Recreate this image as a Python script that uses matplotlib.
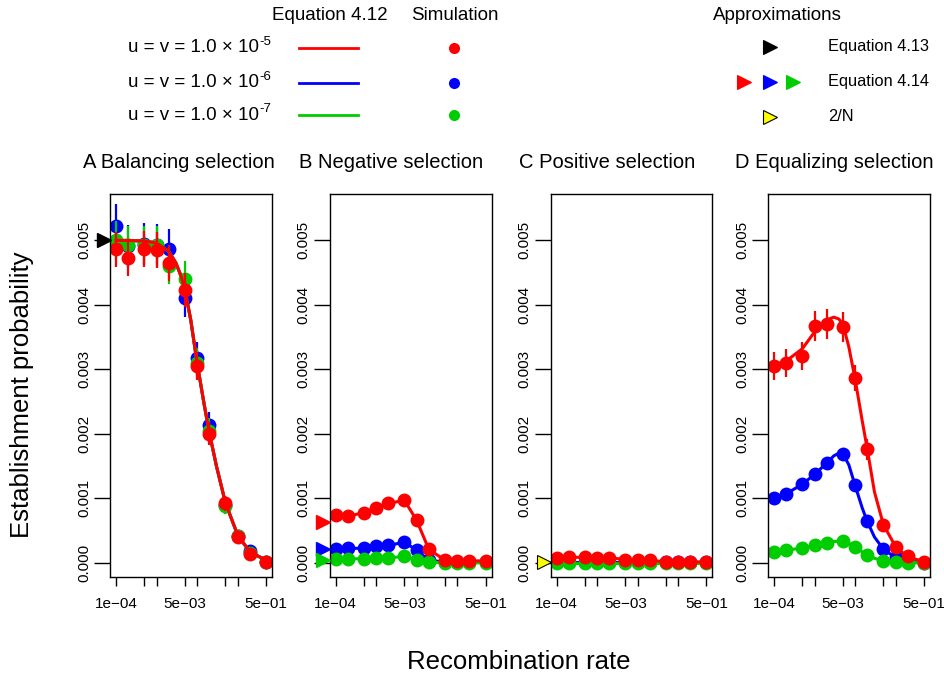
import numpy as np
import matplotlib.pyplot as plt
from matplotlib.lines import Line2D
from matplotlib import transforms
from matplotlib.ticker import NullLocator

plt.rcParams['font.family'] = ['Liberation Sans', 'DejaVu Sans']

# recombination rates of the simulations and of the analytic curves
r_sim = [1e-4, 2e-4, 5e-4, 1e-3, 2e-3, 5e-3, 1e-2, 2e-2, 5e-2, 1e-1, 2e-1, 5e-1]
r_eq = [1e-4, 2e-4, 5e-4, 1e-3, 2e-3, 3e-3, 4e-3, 5e-3, 7e-3, 1e-2,
        1.5e-2, 2e-2, 3e-2, 5e-2, 1e-1, 2e-1, 5e-1]

# establishment probabilities, in units of 1e-3
# A: balancing selection
A_sim_blue = [5.23, 4.91, 4.95, 4.93, 4.86, 4.11, 3.17, 2.13, 0.90, 0.42, 0.18, 0.02]
A_sim_green = [5.00, 4.93, 4.93, 4.93, 4.61, 4.40, 3.10, 2.05, 0.88, 0.42, 0.15, 0.02]
A_sim_red = [4.86, 4.73, 4.87, 4.85, 4.65, 4.23, 3.05, 2.00, 0.92, 0.40, 0.14, 0.02]
A_eq = [5.00, 5.00, 4.99, 4.96, 4.83, 4.65, 4.45, 4.24, 3.76, 3.10,
        2.45, 2.02, 1.50, 0.93, 0.43, 0.17, 0.04]
A_eq413 = 5.0

# B: negative selection
B_sim_blue = [0.22, 0.225, 0.225, 0.255, 0.27, 0.32, 0.195, 0.04, 0.01, 0.01, 0.01, 0.01]
B_sim_green = [0.055, 0.06, 0.065, 0.07, 0.075, 0.10, 0.05, 0.01, 0.0, 0.0, 0.0, 0.0]
B_sim_red = [0.74, 0.72, 0.78, 0.85, 0.92, 0.97, 0.66, 0.21, 0.04, 0.03, 0.03, 0.03]
B_eq414 = [0.63, 0.22, 0.05]  # red, blue, green

# C: positive selection
C_sim_blue = [0.005] * 12
C_sim_green = [0.002] * 12
C_sim_red = [0.08, 0.085, 0.085, 0.08, 0.08, 0.05, 0.04, 0.04, 0.015, 0.015, 0.015, 0.015]
N = 200000

# D: equalizing selection
D_sim_blue = [1.00, 1.07, 1.23, 1.37, 1.55, 1.69, 1.20, 0.645, 0.22, 0.09, 0.02, 0.0]
D_sim_green = [0.17, 0.195, 0.23, 0.27, 0.31, 0.335, 0.25, 0.12, 0.03, 0.01, 0.0, 0.0]
D_sim_red = [3.05, 3.10, 3.20, 3.68, 3.70, 3.66, 2.87, 1.76, 0.59, 0.25, 0.10, 0.01]
D_eq_blue = [1.00, 1.07, 1.22, 1.37, 1.55, 1.66, 1.70, 1.69, 1.52, 1.20,
             0.85, 0.64, 0.40, 0.21, 0.08, 0.03, 0.005]
D_eq_green = [0.17, 0.195, 0.23, 0.27, 0.31, 0.33, 0.335, 0.33, 0.30, 0.25,
              0.17, 0.12, 0.07, 0.03, 0.01, 0.003, 0.0]
D_eq_red = [3.07, 3.13, 3.32, 3.58, 3.77, 3.81, 3.78, 3.70, 3.35, 2.85,
            2.20, 1.76, 1.10, 0.59, 0.25, 0.09, 0.02]

# number of replicate runs behind each simulated point (blue, green, red)
runs = {'A': (1.8e5, 2.2e5, 2.4e5), 'B': (1e6, 1e6, 1e6),
        'C': (1e6, 1e6, 1e6), 'D': (1e6, 1e6, 2.6e5)}

titles = ['A Balancing selection', 'B Negative selection',
          'C Positive selection', 'D Equalizing selection']
mut_exponents = ['-5', '-6', '-7']

RED, BLUE, GREEN = '#FF0000', '#0000FF', '#00CD00'
SCALE = 1e-3

W, H = 945, 677


def fx(x):
    return x / W


def fy(y):
    return 1 - y / H


panels = {
    'A': [(BLUE, A_sim_blue, r_eq, A_eq), (GREEN, A_sim_green, r_eq, A_eq),
          (RED, A_sim_red, r_eq, A_eq)],
    'B': [(BLUE, B_sim_blue, r_sim, B_sim_blue), (GREEN, B_sim_green, r_sim, B_sim_green),
          (RED, B_sim_red, r_sim, B_sim_red)],
    'C': [(BLUE, C_sim_blue, r_sim, C_sim_blue), (GREEN, C_sim_green, r_sim, C_sim_green),
          (RED, C_sim_red, r_sim, C_sim_red)],
    'D': [(BLUE, D_sim_blue, r_eq, D_eq_blue), (GREEN, D_sim_green, r_eq, D_eq_green),
          (RED, D_sim_red, r_eq, D_eq_red)],
}

fig = plt.figure(figsize=(9.45, 6.77), dpi=100)

panel_left = [110, 329.5, 550.5, 768]
title_x = [178.5, 391.5, 607, 834.5]
xt = [1e-4, 5e-4, 1e-3, 5e-3, 1e-2, 5e-2, 1e-1, 5e-1]
xt_labels = ['1e\u221204', '', '', '5e\u221203', '', '', '', '5e\u221201']
yt = [0.0, 0.001, 0.002, 0.003, 0.004, 0.005]

pad = 0.04 * np.log10(5e-1 / 1e-4)
xlim = (1e-4 / 10 ** pad, 5e-1 * 10 ** pad)
ylim = (-0.04 * 0.0055, 0.0055 * 1.04)

for i, key in enumerate('ABCD'):
    ax = fig.add_axes([fx(panel_left[i]), fy(577), 162 / W, (577 - 194) / H])
    ax.set_xscale('log')
    for (col, sim, rx, eq), n in zip(panels[key], runs[key]):
        p = np.array(sim) * SCALE
        err = 1.96 * np.sqrt(p * (1 - p) / n)
        ax.plot(rx, np.array(eq) * SCALE, color=col, lw=2.2)
        ax.vlines(r_sim, p - err, p + err, color=col, lw=1.6)
        ax.plot(r_sim, p, 'o', color=col, ms=10, mec='none')

    ax.set_xlim(*xlim)
    ax.set_ylim(*ylim)
    ax.set_xticks(xt, xt_labels)
    ax.xaxis.set_minor_locator(NullLocator())
    ax.set_yticks(yt, ['%.3f' % v for v in yt])
    ax.tick_params(axis='x', length=6.5, width=1, pad=8, labelsize=11)
    ax.tick_params(axis='y', length=11.5, width=1, pad=2, labelsize=11,
                   labelrotation=90)
    for lab in ax.get_yticklabels():
        lab.set_va('center')
    for s in ax.spines.values():
        s.set_linewidth(1)

    # approximations marked on the left axis
    trans = transforms.blended_transform_factory(ax.transAxes, ax.transData)
    tri = dict(marker='>', ms=9.5, transform=trans, clip_on=False, zorder=6,
               linestyle='none')
    if key == 'A':
        ax.plot(-0.04, A_eq413 * SCALE, color='black', **tri)
    elif key == 'B':
        for col, v in zip((RED, BLUE, GREEN), B_eq414):
            ax.plot(-0.04, v * SCALE, color=col, mec=col, **tri)
    elif key == 'C':
        ax.plot(-0.04, 2 / N, color='#FFFF00', mec='black', mew=0.8, **tri)

    fig.text(fx(title_x[i]), fy(163), titles[i], ha='center', va='center',
             fontsize=14.5)

# shared axis titles
fig.text(fx(22), fy(395), 'Establishment probability', rotation=90,
         ha='center', va='center', fontsize=18.5)
fig.text(fx(519), fy(662), 'Recombination rate', ha='center', va='center',
         fontsize=18.5)

# legend block
fig.text(fx(330), fy(15), 'Equation 4.12', ha='center', va='center', fontsize=13.5)
fig.text(fx(455), fy(15), 'Simulation', ha='center', va='center', fontsize=13.5)
renderer = fig.canvas.get_renderer()
for y, col, ex in zip([48, 82.5, 115], [RED, BLUE, GREEN], mut_exponents):
    t = fig.text(fx(128), fy(y), 'u = v = 1.0 × 10', ha='left', va='center',
                 fontsize=13.5)
    bb = t.get_window_extent(renderer)
    fig.text(fx(bb.x1 + 0.5), fy(y - 6), ex, ha='left', va='center', fontsize=9.5)
    fig.add_artist(Line2D([fx(299), fx(358)], [fy(y), fy(y)], color=col, lw=2,
                          transform=fig.transFigure))
    fig.add_artist(Line2D([fx(454)], [fy(y)], marker='o', ms=8, color=col,
                          mec='none', linestyle='none', transform=fig.transFigure))

fig.text(fx(777.5), fy(15), 'Approximations', ha='center', va='center', fontsize=13.5)
legend_tri = [(770, 46.7, 'black', 'black'), (744.3, 81.7, RED, RED),
              (770, 81.7, BLUE, BLUE), (792.7, 81.7, GREEN, GREEN),
              (770, 116.7, '#FFFF00', 'black')]
for x, y, fc, ec in legend_tri:
    fig.add_artist(Line2D([fx(x)], [fy(y)], marker='>', ms=9.5, color=fc, mec=ec,
                          mew=0.8, linestyle='none', transform=fig.transFigure))
for y, lab in zip([46.7, 81.7, 116.7], ['Equation 4.13', 'Equation 4.14', '2/N']):
    fig.text(fx(828), fy(y), lab, ha='left', va='center', fontsize=11.8)

fig.savefig('out.png', dpi=100)
